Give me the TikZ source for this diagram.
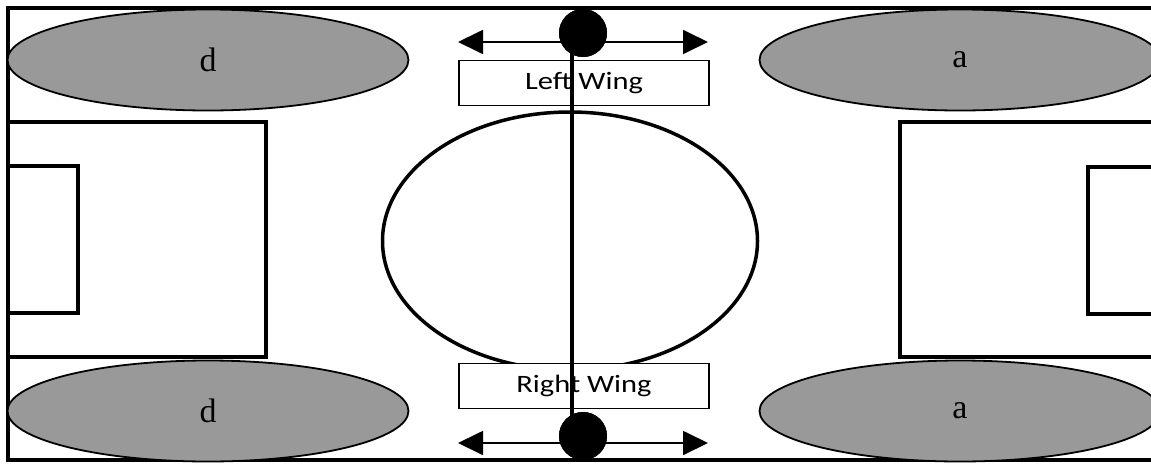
\documentclass[tikz,border=0pt]{standalone}
\usepackage{fontspec}
\setmainfont{Liberation Serif}
\newfontfamily\wingfont{Carlito}
\usetikzlibrary{shapes.geometric,arrows.meta}
\definecolor{pitchgray}{RGB}{153,153,153}
\newcommand{\winglabel}[1]{\scalebox{1.22}[1]{#1}}

\begin{document}
\begin{tikzpicture}[x=1pt,y=-1pt,>={Triangle[length=25pt,width=24pt]},
  player/.style={draw,ellipse,fill=pitchgray,line width=1.8pt,minimum width=401pt,minimum height=101pt,inner sep=0pt,font=\fontsize{34}{34}\selectfont},
  wing/.style={draw,fill=white,line width=1.8pt,minimum width=250pt,minimum height=45pt,inner sep=0pt,font=\wingfont\fontsize{25}{25}\selectfont},
  ball/.style={circle,fill=black,minimum size=48pt,inner sep=0pt}]
        \useasboundingbox (0,0) rectangle (1151,466);
        \fill[white] (0,0) rectangle (1151,466);
        \draw[line width=4pt] (8,8) rectangle (1155,460);
        \draw[line width=4pt] (8,122) rectangle (266,357);
        \draw[line width=4pt] (8,166) rectangle (78,313);
        \draw[line width=4pt] (1160,122) -| (900,357) -- (1160,357);
        \draw[line width=4pt] (1160,167) -| (1088,314) -- (1160,314);
        \node[draw,ellipse,line width=3.5pt,minimum width=375pt,minimum height=258pt] (centre) at (570,241) {};
        \node[player] (dtop) at (208,60) {d};
        \node[player] (dbot) at (208,411) {d};
        \node[player] (atop) at (960,60) {a};
        \node[player] (abot) at (960,411) {a};
        \node[wing] (lwing) at (584,83) {\winglabel{Left Wing}};
        \node[wing] (rwing) at (584,386) {\winglabel{Right Wing}};
        \coordinate (halftop) at (572,33);
        \coordinate (halfbot) at (572,436);
        \draw[line width=3.5pt] (halftop) -- (halfbot);
        \coordinate (ltopleft) at (458,42);
        \coordinate (ltopright) at (708,42);
        \coordinate (rbotleft) at (458,443);
        \coordinate (rbotright) at (708,443);
        \node[ball] (lball) at (583,33) {};
        \node[ball] (rball) at (583,436) {};
        \draw[->,line width=1.8pt] (lball.center |- ltopleft) -- (ltopleft);
        \draw[->,line width=1.8pt] (lball.center |- ltopright) -- (ltopright);
        \draw[->,line width=1.8pt] (rball.center |- rbotleft) -- (rbotleft);
        \draw[->,line width=1.8pt] (rball.center |- rbotright) -- (rbotright);
        \node[ball] at (lball) {};
        \node[ball] at (rball) {};
    \end{tikzpicture}
\end{document}
